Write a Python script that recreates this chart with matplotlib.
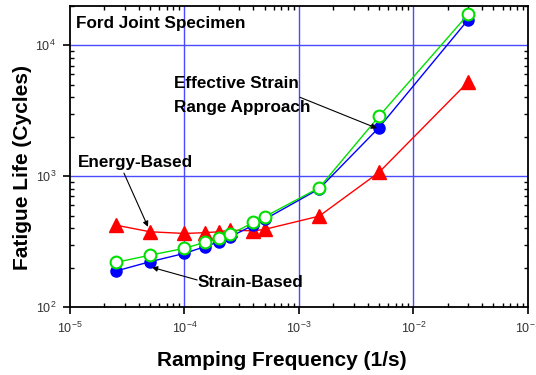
import numpy as np
import matplotlib
matplotlib.use("Agg")
import matplotlib.pyplot as plt
from matplotlib.ticker import LogLocator, NullFormatter

plt.rcParams['font.family'] = ['Liberation Sans', 'DejaVu Sans']
plt.rcParams['mathtext.fontset'] = 'custom'
plt.rcParams['mathtext.rm'] = 'Liberation Sans'
plt.rcParams['mathtext.default'] = 'regular'

# ramping frequency (1/s)
freq = [2.5e-5, 5e-5, 1e-4, 1.5e-4, 2e-4, 2.5e-4, 4e-4, 5e-4, 1.5e-3, 5e-3, 3e-2]

# fatigue life (cycles)
energy_based = [423, 376, 365, 370, 376, 387, 382, 392, 495, 1070, 5250]
strain_based = [188, 222, 257, 289, 315, 344, 422, 467, 800, 2355, 15700]
effective_strain = [219, 249, 281, 312, 334, 359, 443, 489, 815, 2870, 17260]

fig = plt.figure(figsize=(5.36, 3.75), dpi=100)
ax = fig.add_axes([0.1306, 0.1813, 0.8544, 0.8027])

ax.set_xscale('log')
ax.set_yscale('log')
ax.set_xlim(1e-5, 1e-1)
ax.set_ylim(1e2, 2e4)

# blue grid at major decades only
for gx in [1e-4, 1e-3, 1e-2]:
    ax.axvline(gx, color='#4a4aff', lw=1.0, zorder=1)
for gy in [1e3, 1e4]:
    ax.axhline(gy, color='#4a4aff', lw=1.0, zorder=1)

ax.plot(freq, energy_based, color='red', lw=1.0, marker='^', ms=10.5,
        mfc='red', mec='red', zorder=3)
ax.plot(freq, strain_based, color='blue', lw=1.0, marker='o', ms=8,
        mfc='blue', mec='blue', zorder=4)
ax.plot(freq, effective_strain, color='#00e000', lw=1.0, marker='o', ms=8.5,
        mfc='white', mec='#00e000', mew=1.5, zorder=5)

ax.set_xticks([1e-5, 1e-4, 1e-3, 1e-2, 1e-1])
ax.set_xticklabels(['$10^{-5}$', '$10^{-4}$', '$10^{-3}$', '$10^{-2}$', '$10^{-1}$'])
ax.set_yticks([1e2, 1e3, 1e4])
ax.set_yticklabels(['$10^{2}$', '$10^{3}$', '$10^{4}$'])
ax.xaxis.set_minor_locator(LogLocator(base=10, subs=np.arange(2, 10), numticks=20))
ax.yaxis.set_minor_locator(LogLocator(base=10, subs=np.arange(2, 10), numticks=20))
ax.xaxis.set_minor_formatter(NullFormatter())
ax.yaxis.set_minor_formatter(NullFormatter())

ax.tick_params(which='major', direction='out', length=5, width=1.2,
               labelsize=9, colors='black', labelcolor='#333333', pad=5)
ax.tick_params(which='minor', direction='in', length=3, width=1.0)
ax.tick_params(which='both', top=True, right=True)
ax.tick_params(axis='x', which='major', top=False)
ax.tick_params(axis='y', which='major', right=False)

for sp in ax.spines.values():
    sp.set_linewidth(1.3)

ax.set_xlabel('Ramping Frequency (1/s)', fontsize=15, fontweight='heavy')
ax.set_ylabel('Fatigue Life (Cycles)', fontsize=15, fontweight='heavy')
ax.xaxis.set_label_coords(0.462, -0.145)
ax.yaxis.set_label_coords(-0.083, 0.465)

lab = dict(fontsize=12.3, fontweight='bold', ha='left', va='center')
arrow = dict(arrowstyle='-|>', color='black', lw=0.8, mutation_scale=8,
             shrinkA=0, shrinkB=0)

ax.text(1.13e-5, 14700, 'Ford Joint Specimen', **lab)

ax.annotate('', xy=(4.8e-3, 2323), xytext=(1.02e-3, 4010),
            arrowprops=arrow, zorder=6)
ax.text(8.1e-5, 5130, 'Effective Strain', **lab)
ax.text(8.1e-5, 3365, 'Range Approach', **lab)

ax.annotate('', xy=(4.8e-5, 410), xytext=(2.96e-5, 1055),
            arrowprops=arrow, zorder=6)
ax.text(1.16e-5, 1280, 'Energy-Based', **lab)

ax.annotate('', xy=(5.2e-5, 201), xytext=(1.29e-4, 161),
            arrowprops=arrow, zorder=6)
ax.text(1.29e-4, 155, 'Strain-Based', **lab)

fig.savefig('out.png', dpi=100)
